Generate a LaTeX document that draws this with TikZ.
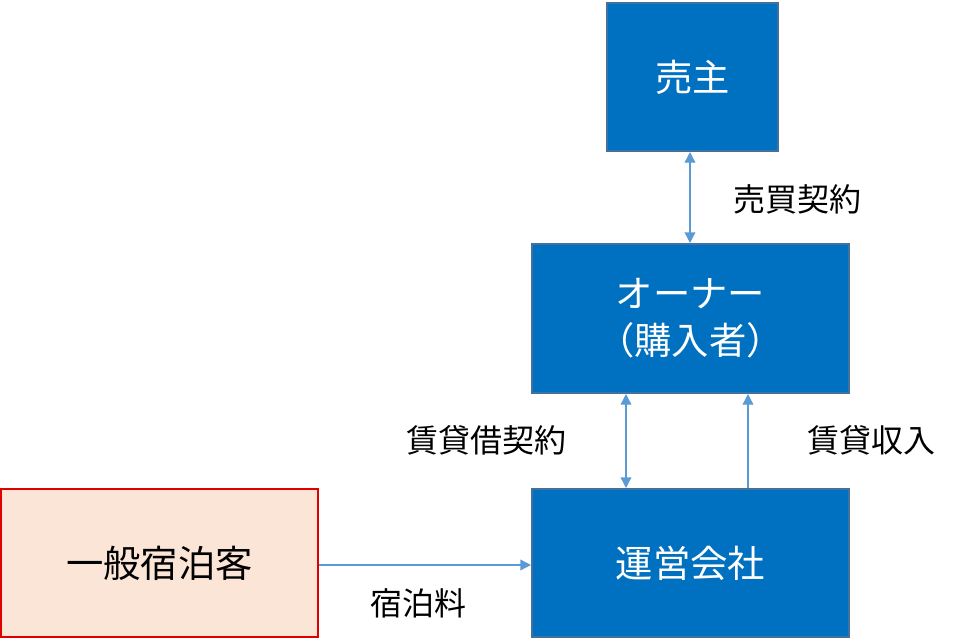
\documentclass[tikz,border=0pt]{standalone}
\usepackage{fontspec}
\setmainfont{Noto Sans CJK JP}
\usetikzlibrary{arrows.meta}
\definecolor{boxblue}{HTML}{0070C0}
\definecolor{boxedge}{HTML}{41719C}
\definecolor{arrblue}{HTML}{5B9BD5}
\definecolor{peach}{HTML}{FBE5D6}
\definecolor{redge}{HTML}{E00000}
\begin{document}
\begin{tikzpicture}[x=0.75pt,y=-0.75pt,
  bluebox/.style={draw=boxedge,line width=1.5pt,fill=boxblue,text=white,font=\fontsize{28}{35}\selectfont,align=center,inner sep=0pt},
  guestbox/.style={draw=redge,line width=1.5pt,fill=peach,text=black,font=\fontsize{28}{35}\selectfont,inner sep=0pt},
  conn/.style={draw=arrblue,line width=1pt},
  tip/.style={-{Triangle[length=8pt,width=8pt]}},
  biarrow/.style={{Triangle[length=8pt,width=8pt]}-{Triangle[length=8pt,width=8pt]}},
  lbl/.style={font=\fontsize{24}{28}\selectfont,text=black,inner sep=0pt}]
\useasboundingbox (0,0) rectangle (958,640);
\node[bluebox,minimum width=171*0.75pt,minimum height=148*0.75pt] (seller) at (692.5,77) {売主};
\node[bluebox,minimum width=317*0.75pt,minimum height=149*0.75pt] (owner) at (690.5,318.5) {オーナー\\（購入者）};
\node[bluebox,minimum width=317*0.75pt,minimum height=148*0.75pt] (op) at (690.5,563) {運営会社};
\node[guestbox,minimum width=317*0.75pt,minimum height=148*0.75pt] (guest) at (159.5,563) {一般宿泊客};
\coordinate (a1) at (690,151); \coordinate (a2) at (690,244);
\coordinate (b1) at (626,393); \coordinate (b2) at (626,489);
\coordinate (c1) at (748,489); \coordinate (c2) at (748,393);
\draw[conn,biarrow] (seller.south -| a1) -- (owner.north -| a2);
\draw[conn,biarrow] (owner.south -| b1) -- (op.north -| b2);
\draw[conn,tip] (op.north -| c1) -- (owner.south -| c2);
\draw[conn,tip] (guest.east |- 0,565) -- (op.west |- 0,565);
\node[lbl] (l1) at (797,199) {売買契約};
\node[lbl] (l2) at (486,440) {賃貸借契約};
\node[lbl] (l3) at (871,440) {賃貸収入};
\node[lbl] (l4) at (418,603) {宿泊料};
\end{tikzpicture}
\end{document}
